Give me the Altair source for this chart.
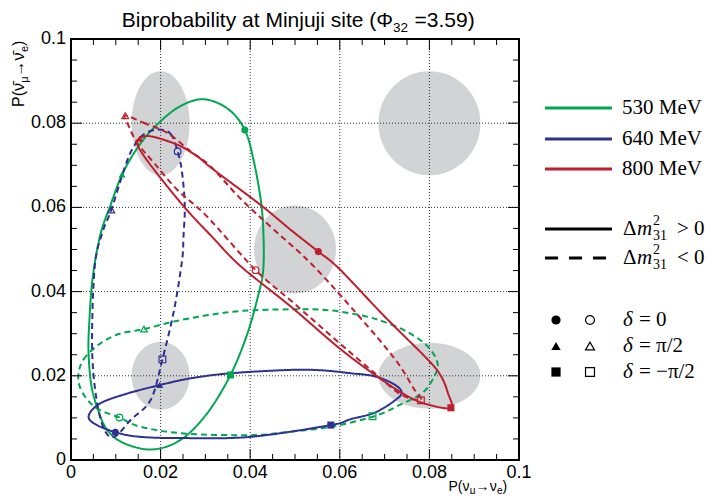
import altair as alt
import pandas as pd

# ---------------- data ----------------
energies = ["530 MeV", "640 MeV", "800 MeV"]
energy_colors = ["#00a651", "#2e3192", "#be1e2d"]
hier_names = ["NH", "IH"]          # NH: dm31^2 > 0 (solid), IH: dm31^2 < 0 (dashed)
delta_names = ["0", "pi/2", "-pi/2"]

# 530 MeV, normal hierarchy
g530_nh_x = [0.0293, 0.0349, 0.0388, 0.0409, 0.0425, 0.0430, 0.0429, 0.0420, 0.0394, 0.0356,
             0.0304, 0.0245, 0.0181, 0.0118, 0.0081, 0.0060, 0.0045, 0.0039, 0.0041, 0.0046,
             0.0055, 0.0068, 0.0088, 0.0114, 0.0148, 0.0185, 0.0237]
g530_nh_y = [0.0857, 0.0835, 0.0784, 0.0705, 0.0606, 0.0520, 0.0451, 0.0400, 0.0301, 0.0202,
             0.0111, 0.0048, 0.0025, 0.0040, 0.0071, 0.0120, 0.0180, 0.0260, 0.0330, 0.0410,
             0.0480, 0.0545, 0.0605, 0.0678, 0.0741, 0.0789, 0.0836]
# 530 MeV, inverted hierarchy
g530_ih_x = [0.0017, 0.0028, 0.0058, 0.0103, 0.0163, 0.0230, 0.0300, 0.0379, 0.0490, 0.0573,
             0.0650, 0.0699, 0.0751, 0.0796, 0.0818, 0.0811, 0.0785, 0.0736, 0.0677, 0.0580,
             0.0480, 0.0401, 0.0252, 0.0155, 0.0108, 0.0062, 0.0036, 0.0019]
g530_ih_y = [0.0207, 0.0239, 0.0271, 0.0298, 0.0311, 0.0329, 0.0343, 0.0354, 0.0358, 0.0356,
             0.0343, 0.0328, 0.0304, 0.0270, 0.0231, 0.0199, 0.0160, 0.0132, 0.0104, 0.0079,
             0.0066, 0.0059, 0.0063, 0.0079, 0.0101, 0.0120, 0.0144, 0.0176]
# 640 MeV, normal hierarchy
b640_nh_x = [0.0040, 0.0066, 0.0126, 0.0198, 0.0267, 0.0356, 0.0490, 0.0560, 0.0625, 0.0677,
             0.0721, 0.0738, 0.0721, 0.0677, 0.0624, 0.0580, 0.0401, 0.0252, 0.0155, 0.0099,
             0.0051]
b640_nh_y = [0.0107, 0.0135, 0.0158, 0.0178, 0.0194, 0.0206, 0.0214, 0.0213, 0.0206, 0.0199,
             0.0180, 0.0160, 0.0140, 0.0112, 0.0097, 0.0083, 0.0055, 0.0052, 0.0055, 0.0066,
             0.0087]
# 640 MeV, inverted hierarchy
b640_ih_x = [0.0193, 0.0222, 0.0238, 0.0248, 0.0254, 0.0251, 0.0248, 0.0230, 0.0204, 0.0178,
             0.0133, 0.0097, 0.0073, 0.0055, 0.0047, 0.0053, 0.0070, 0.0090, 0.0121, 0.0140,
             0.0163]
b640_ih_y = [0.0785, 0.0775, 0.0733, 0.0682, 0.0602, 0.0530, 0.0475, 0.0356, 0.0239, 0.0143,
             0.0095, 0.0055, 0.0075, 0.0158, 0.0277, 0.0460, 0.0540, 0.0594, 0.0698, 0.0745,
             0.0774]
# 800 MeV, normal hierarchy
r800_nh_x = [0.0153, 0.0177, 0.0237, 0.0282, 0.0319, 0.0423, 0.0490, 0.0552, 0.0598, 0.0699,
             0.0796, 0.0826, 0.0841, 0.0848, 0.0796, 0.0751, 0.0692, 0.0602, 0.0490, 0.0379,
             0.0315, 0.0252, 0.0178, 0.0148]
r800_nh_y = [0.0763, 0.0769, 0.0749, 0.0721, 0.0689, 0.0606, 0.0547, 0.0495, 0.0455, 0.0342,
             0.0239, 0.0199, 0.0160, 0.0124, 0.0132, 0.0152, 0.0192, 0.0263, 0.0365, 0.0460,
             0.0530, 0.0602, 0.0700, 0.0749]
# 800 MeV, inverted hierarchy
r800_ih_x = [0.0121, 0.0162, 0.0215, 0.0267, 0.0311, 0.0379, 0.0453, 0.0542, 0.0662, 0.0729,
             0.0766, 0.0781, 0.0736, 0.0677, 0.0602, 0.0498, 0.0412, 0.0304, 0.0237, 0.0185,
             0.0148, 0.0129]
r800_ih_y = [0.0818, 0.0801, 0.0777, 0.0733, 0.0698, 0.0620, 0.0547, 0.0460, 0.0318, 0.0231,
             0.0168, 0.0142, 0.0156, 0.0207, 0.0275, 0.0372, 0.0451, 0.0578, 0.0642, 0.0706,
             0.0753, 0.0793]

# CP phase points (delta = 0, pi/2, -pi/2)
mk_energy = ["530 MeV"] * 6 + ["640 MeV"] * 6 + ["800 MeV"] * 6
mk_hier = (["NH"] * 3 + ["IH"] * 3) * 3
mk_delta = ["0", "pi/2", "-pi/2"] * 6
mk_x = [0.0388, 0.0114, 0.0356, 0.0108, 0.0163, 0.0673,
        0.0099, 0.0198, 0.0580, 0.0238, 0.0090, 0.0204,
        0.0552, 0.0153, 0.0848, 0.0412, 0.0121, 0.0781]
mk_y = [0.0784, 0.0678, 0.0202, 0.0101, 0.0311, 0.0104,
        0.0066, 0.0178, 0.0083, 0.0733, 0.0594, 0.0239,
        0.0495, 0.0763, 0.0124, 0.0451, 0.0818, 0.0142]

# shaded regions (centres)
region_x = [0.02, 0.08, 0.05, 0.08, 0.02]
region_y = [0.08, 0.08, 0.05, 0.02, 0.02]

# axis ticks and labels
axis_values = [0, 0.02, 0.04, 0.06, 0.08, 0.1]
axis_labels = ["0", "0.02", "0.04", "0.06", "0.08", "0.1"]
grid_values = [0.02, 0.04, 0.06, 0.08]
minor_ticks = [0.005, 0.01, 0.015, 0.025, 0.03, 0.035, 0.045, 0.05, 0.055,
               0.065, 0.07, 0.075, 0.085, 0.09, 0.095]

# ---------------- layout / style ----------------
W, H = 448, 421
SANS = "Liberation Sans"
SERIF = "Liberation Serif"
region_rx_px = [29, 51, 41, 51, 29]
region_ry_px = [52, 52, 44, 33, 34]
REGION_GRAY = "#d1d3d4"

curve_list = [
    ("530 MeV", "NH", g530_nh_x, g530_nh_y),
    ("530 MeV", "IH", g530_ih_x, g530_ih_y),
    ("640 MeV", "NH", b640_nh_x, b640_nh_y),
    ("640 MeV", "IH", b640_ih_x, b640_ih_y),
    ("800 MeV", "NH", r800_nh_x, r800_nh_y),
    ("800 MeV", "IH", r800_ih_x, r800_ih_y),
]
rows = []
for e, h, xs_, ys_ in curve_list:
    for i, (xv, yv) in enumerate(zip(xs_, ys_)):
        rows.append({"x": xv, "y": yv, "energy": e, "hier": h, "curve": e + h, "idx": i})
curves_df = pd.DataFrame(rows)

markers_df = pd.DataFrame({"x": mk_x, "y": mk_y, "energy": mk_energy,
                           "hier": mk_hier, "delta": mk_delta})


def ellipse_path(rx, ry):
    r = max(rx, ry)
    a, b, k = rx / r, ry / r, 0.5523
    return (f"M {a} 0 C {a} {k*b} {k*a} {b} 0 {b} C {-k*a} {b} {-a} {k*b} {-a} 0 "
            f"C {-a} {-k*b} {-k*a} {-b} 0 {-b} C {k*a} {-b} {a} {-k*b} {a} 0 Z")


regions_df = pd.DataFrame({
    "x": region_x, "y": region_y,
    "path": [ellipse_path(a, b) for a, b in zip(region_rx_px, region_ry_px)],
    "sz": [(2 * max(a, b)) ** 2 for a, b in zip(region_rx_px, region_ry_px)],
})

xs = alt.Scale(domain=[0, 0.1], nice=False, zero=False)
ys = alt.Scale(domain=[0, 0.1], nice=False, zero=False)

color_enc = alt.Color("energy:N", scale=alt.Scale(domain=energies, range=energy_colors),
                      legend=None)
shape_enc = alt.Shape("delta:N", scale=alt.Scale(domain=delta_names,
                                                 range=["circle", "triangle-up", "square"]),
                      legend=None)

regions = alt.Chart(regions_df).mark_point(filled=True, opacity=1, color=REGION_GRAY,
                                            strokeWidth=0).encode(
    x=alt.X("x:Q", scale=xs, axis=None),
    y=alt.Y("y:Q", scale=ys, axis=None),
    shape=alt.Shape("path:N", scale=None),
    size=alt.Size("sz:Q", scale=None),
)

grid_df = pd.DataFrame({"v": grid_values})
vgrid = alt.Chart(grid_df).mark_rule(color="#333", strokeWidth=1, strokeDash=[1, 2]).encode(
    x=alt.X("v:Q", scale=xs, axis=None), y=alt.value(0), y2=alt.value(H))
hgrid = alt.Chart(grid_df).mark_rule(color="#333", strokeWidth=1, strokeDash=[1, 2]).encode(
    y=alt.Y("v:Q", scale=ys, axis=None), x=alt.value(0), x2=alt.value(W))

curves = alt.Chart(curves_df).mark_line(interpolate="cardinal-closed", strokeWidth=2).encode(
    x=alt.X("x:Q", scale=xs, axis=None),
    y=alt.Y("y:Q", scale=ys, axis=None),
    color=color_enc,
    strokeDash=alt.StrokeDash("hier:N", scale=alt.Scale(domain=hier_names,
                                                        range=[[1, 0], [6, 4]]), legend=None),
    detail="curve:N",
    order="idx:Q",
)

filled_pts = alt.Chart(markers_df).transform_filter(alt.datum.hier == "NH").mark_point(
    filled=True, opacity=1, size=50).encode(
    x=alt.X("x:Q", scale=xs, axis=None), y=alt.Y("y:Q", scale=ys, axis=None),
    color=color_enc, shape=shape_enc)
open_pts = alt.Chart(markers_df).transform_filter(alt.datum.hier == "IH").mark_point(
    filled=False, opacity=1, size=45, strokeWidth=1.2).encode(
    x=alt.X("x:Q", scale=xs, axis=None), y=alt.Y("y:Q", scale=ys, axis=None),
    color=color_enc, shape=shape_enc)

# inner ticks on all four sides
tick_layers = []
for vals, L in ((axis_values, 11), (minor_ticks, 6)):
    tdf = pd.DataFrame({"v": vals})
    tick_layers += [
        alt.Chart(tdf).mark_rule(color="black", strokeWidth=1).encode(
            x=alt.X("v:Q", scale=xs, axis=None), y=alt.value(H), y2=alt.value(H - L)),
        alt.Chart(tdf).mark_rule(color="black", strokeWidth=1).encode(
            x=alt.X("v:Q", scale=xs, axis=None), y=alt.value(0), y2=alt.value(L)),
        alt.Chart(tdf).mark_rule(color="black", strokeWidth=1).encode(
            y=alt.Y("v:Q", scale=ys, axis=None), x=alt.value(0), x2=alt.value(L)),
        alt.Chart(tdf).mark_rule(color="black", strokeWidth=1).encode(
            y=alt.Y("v:Q", scale=ys, axis=None), x=alt.value(W), x2=alt.value(W - L)),
    ]

# tick labels
lab_df = pd.DataFrame({"v": axis_values, "lab": axis_labels})
x_labels = alt.Chart(lab_df).mark_text(font=SANS, fontSize=18, align="center",
                                       baseline="top", color="black").encode(
    x=alt.X("v:Q", scale=xs, axis=None), y=alt.value(H + 4), text="lab:N")
y_labels = alt.Chart(lab_df).mark_text(font=SANS, fontSize=18, align="right",
                                       baseline="middle", color="black").encode(
    y=alt.Y("v:Q", scale=ys, axis=None), x=alt.value(-5), text="lab:N")

one = alt.Data(values=[{"k": 0}])

frame = alt.Chart(one).mark_rect(fillOpacity=0, stroke="black", strokeWidth=2).encode(
    x=alt.value(0), x2=alt.value(W), y=alt.value(0), y2=alt.value(H))


def text_layer(s, x, y, size, font=SERIF, align="left", baseline="middle",
               style="normal", angle=0):
    return alt.Chart(one).mark_text(text=s, font=font, fontSize=size, align=align,
                                    baseline=baseline, fontStyle=style, angle=angle,
                                    color="black").encode(x=alt.value(x), y=alt.value(y))


texts = []
# title
TX0 = 322
texts += [
    text_layer("Biprobability at Minjuji site (Φ", TX0, -12, 21, SANS, "right", "alphabetic"),
    text_layer("32", TX0, -7, 13.5, SANS, "left", "alphabetic"),
    text_layer("=3.59)", TX0 + 21.5, -12, 21, SANS, "left", "alphabetic"),
]
# x-axis title (fits between the 0.08 and 0.1 labels)
XT, XB = 377.5, 452
texts += [
    text_layer("P(ν", XT, XB, 14, SANS, "left", "alphabetic"),
    text_layer("μ", XT + 21.3, XB + 2.5, 10, SANS, "left", "alphabetic"),
    text_layer("→", XT + 27, XB, 14, SANS, "left", "alphabetic"),
    text_layer("ν", XT + 41.3, XB, 14, SANS, "left", "alphabetic"),
    text_layer("e", XT + 48.5, XB + 2.5, 10, SANS, "left", "alphabetic"),
    text_layer(")", XT + 54, XB, 14, SANS, "left", "alphabetic"),
]
# y-axis title (rotated)
texts += [
    text_layer("P(ν\u0304", -47, 68, 16, SANS, "left", "alphabetic", angle=270),
    text_layer("μ", -43, 43.7, 11, SANS, "left", "alphabetic", angle=270),
    text_layer("→", -47, 37.4, 16, SANS, "left", "alphabetic", angle=270),
    text_layer("ν\u0304", -47, 21.4, 16, SANS, "left", "alphabetic", angle=270),
    text_layer("e", -43, 13.1, 11, SANS, "left", "alphabetic", angle=270),
    text_layer(")", -47, 7.0, 16, SANS, "left", "alphabetic", angle=270),
]

# legend
legend = []
energy_rows = [69, 100, 130]
for lab, col, yy in zip(energies, energy_colors, energy_rows):
    legend.append(alt.Chart(one).mark_rule(color=col, strokeWidth=3).encode(
        x=alt.value(474), x2=alt.value(541), y=alt.value(yy)))
    legend.append(text_layer(lab, 551, yy, 21))

hier_rows = [(190, [1, 0], ">"), (219, [13, 11], "<")]
for yy, dash, sym in hier_rows:
    legend.append(alt.Chart(one).mark_rule(color="black", strokeWidth=3, strokeDash=dash).encode(
        x=alt.value(474), x2=alt.value(541), y=alt.value(yy)))
    legend += [
        text_layer("Δ", 552, yy, 21),
        text_layer("m", 566, yy, 21, style="italic"),
        text_layer("2", 582, yy - 8, 14),
        text_layer("31", 582, yy + 7, 14),
        text_layer(sym + " 0", 606, yy, 21),
    ]

delta_rows = [281, 307, 333]
delta_labels = ["= 0", "= π/2", "= −π/2"]
for shp, yy, lab in zip(["circle", "triangle-up", "square"], delta_rows, delta_labels):
    legend.append(alt.Chart(one).mark_point(shape=shp, filled=True, opacity=1, size=85,
                                            color="black").encode(
        x=alt.value(485), y=alt.value(yy)))
    legend.append(alt.Chart(one).mark_point(shape=shp, filled=False, opacity=1, size=80,
                                            strokeWidth=1.2, color="black").encode(
        x=alt.value(519), y=alt.value(yy)))
    legend.append(text_layer("δ", 552, yy, 21, style="italic"))
    legend.append(text_layer(lab, 568, yy, 21))

chart = alt.layer(
    regions, vgrid, hgrid, curves, filled_pts, open_pts, *tick_layers, frame,
    x_labels, y_labels, *texts, *legend
).properties(
    width=W, height=H,
    autosize=alt.AutoSizeParams(type="none"),
    padding={"left": 63, "top": 31, "right": 195, "bottom": 34},
).configure_view(strokeWidth=0)

chart.save("out.html", embed_options={"renderer": "svg", "actions": False})
